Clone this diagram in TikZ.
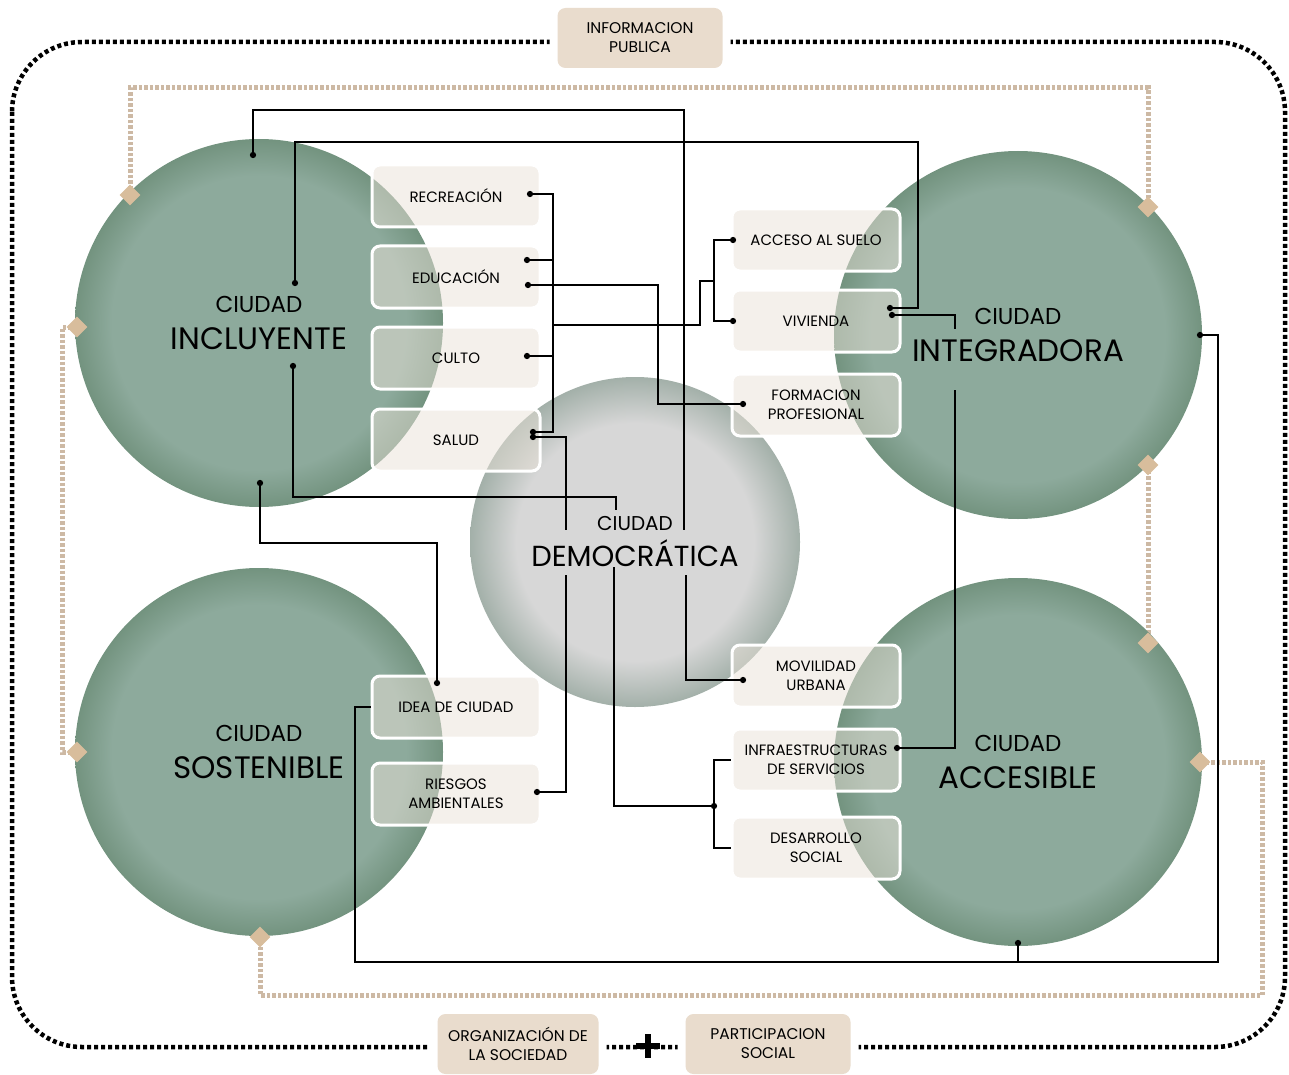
\documentclass[tikz,border=0pt]{standalone}
\usepackage{fontspec}
\setmainfont{Poppins}
\usepackage{tikz}
\usetikzlibrary{shapes.geometric}

\definecolor{verde}{HTML}{8DAA9C}
\definecolor{verdeosc}{HTML}{73937F}
\definecolor{gris}{HTML}{D7D7D7}
\definecolor{grisosc}{HTML}{A3B0A9}
\definecolor{crema}{HTML}{E9E1D7}
\definecolor{arena}{HTML}{E9DCCD}
\definecolor{senda}{HTML}{CDB9A4}
\definecolor{rombo}{HTML}{D8BD9C}

\pgfdeclareradialshading{bolaverde}{\pgfpoint{0bp}{0bp}}{color(0bp)=(verde); color(20bp)=(verde); color(25bp)=(verdeosc); color(50bp)=(verdeosc)}
\pgfdeclareradialshading{bolagris}{\pgfpoint{0bp}{0bp}}{color(0bp)=(gris); color(18bp)=(gris); color(25bp)=(grisosc); color(50bp)=(grisosc)}

\newcommand{\rotulo}[2][23]{{\fontsize{#1}{26}\selectfont CIUDAD}\\#2}

\begin{document}
\begin{tikzpicture}[x=1pt,y=-1pt,
	ciudad/.style={circle, minimum size=368pt, inner sep=0pt, shading=bolaverde,
		align=center, font=\fontsize{31}{37}\selectfont},
	tema/.style={rounded corners=8pt, minimum width=168pt, minimum height=62pt,
		fill=crema, fill opacity=.5, text opacity=1, draw=white, line width=3pt,
		align=center, font=\fontsize{15}{19}\selectfont},
	nota/.style={rounded corners=8pt, minimum width=165pt, minimum height=60pt,
		fill=arena, preaction={draw=white, line width=16pt},
		align=center, font=\fontsize{15.5}{19}\selectfont},
	marco/.style={line width=4.5pt, dash pattern=on 4pt off 3pt, rounded corners=70pt},
	camino/.style={senda, line width=5pt, dash pattern=on 3.5pt off 2pt},
	ficha/.style={diamond, fill=rombo, minimum size=21pt, inner sep=0pt},
	enlace/.style={line width=1.8pt, black}]

	\useasboundingbox (0,0) rectangle (1289,1075);

	% marco exterior
	\draw[marco] (12,42) rectangle (1285,1047);

	% rombos
	\coordinate (r1) at (130,195);
	\coordinate (r2) at (1148,207);
	\coordinate (r3) at (77,327);
	\coordinate (r4) at (77,752);
	\coordinate (r5) at (1148,465);
	\coordinate (r6) at (1148,643);
	\coordinate (r7) at (1200,762);
	\coordinate (r8) at (260,937);

	\draw[camino] (r1) |- (1148,88) -- (r2);
	\draw[camino] (r3) -| (62,752) -- (r4);
	\draw[camino] (r5) -- (r6);
	\draw[camino] (r7) -| (1262,995) -| (r8);

	% ciudades
	\node[ciudad] (inc) at (259,323) {\rotulo{INCLUYENTE}};
	\node[ciudad] (int) at (1018,335) {\rotulo{INTEGRADORA}};
	\node[ciudad] (sos) at (259,752) {\rotulo{SOSTENIBLE}};
	\node[ciudad] (acs) at (1018,762) {\rotulo{ACCESIBLE}};
	\node[ciudad, minimum size=330pt, shading=bolagris, font=\fontsize{29}{36}\selectfont] (dem) at (635,542) {\rotulo[20]{DEMOCRÁTICA}};

	\node[ficha] (f1) at (r1) {};
	\node[ficha] (f2) at (r2) {};
	\node[ficha] (f3) at (r3) {};
	\node[ficha] (f4) at (r4) {};
	\node[ficha] (f5) at (r5) {};
	\node[ficha] (f6) at (r6) {};
	\node[ficha] (f7) at (r7) {};
	\node[ficha] (f8) at (r8) {};

	% temas
	\node[tema] (rec) at (456,196) {RECREACIÓN};
	\node[tema] (edu) at (456,277) {EDUCACIÓN};
	\node[tema] (cul) at (456,358) {CULTO};
	\node[tema] (sal) at (456,440) {SALUD};
	\node[tema] (ide) at (456,707) {IDEA DE CIUDAD};
	\node[tema] (rie) at (456,794) {RIESGOS\\AMBIENTALES};

	\node[tema] (acc) at (816,240) {ACCESO AL SUELO};
	\node[tema] (viv) at (816,321) {VIVIENDA};
	\node[tema] (for) at (816,405) {FORMACION\\PROFESIONAL};
	\node[tema] (mov) at (816,676) {MOVILIDAD\\URBANA};
	\node[tema] (inf) at (816,760) {INFRAESTRUCTURAS\\DE SERVICIOS};
	\node[tema] (des) at (816,848) {DESARROLLO\\SOCIAL};

	\node[nota] (pub) at (640,38) {INFORMACION\\PUBLICA};
	\node[nota, minimum width=161pt] (org) at (518,1044) {ORGANIZACIÓN DE\\LA SOCIEDAD};
	\node[nota] (par) at (768,1044) {PARTICIPACION\\SOCIAL};
	\draw[line width=6.5pt] (636,1046) -- (660,1046) (648,1034) -- (648,1058);

	% puntos de enlace
	\coordinate (inc1) at (253,155);
	\coordinate (inc2) at (295,283);
	\coordinate (inc3) at (293,366);
	\coordinate (inc4) at (260,483);
	\coordinate (recP) at (530,194);
	\coordinate (eduP1) at (527,260);
	\coordinate (eduP2) at (528,285);
	\coordinate (culP) at (527,356);
	\coordinate (salP1) at (533,432);
	\coordinate (salP2) at (533,437);
	\coordinate (ideP) at (437,683);
	\coordinate (rieP) at (537,792);
	\coordinate (accP) at (733,240);
	\coordinate (vivP1) at (733,321);
	\coordinate (vivP2) at (890,308);
	\coordinate (vivP3) at (892,315);
	\coordinate (forP) at (743,404);
	\coordinate (movP) at (743,680);
	\coordinate (infP) at (897,748);
	\coordinate (nudo) at (714,806);
	\coordinate (acsB) at (1018,943);
	\coordinate (intR) at (1200,335);

	\coordinate (demA) at (684,530);
	\coordinate (demB) at (566,530);
	\coordinate (demC) at (616,510);
	\coordinate (demD) at (566,575);
	\coordinate (demE) at (614,567);
	\coordinate (demF) at (686,575);
	\coordinate (intA) at (955,329);
	\coordinate (intB) at (955,390);

	% enlaces
	\draw[enlace] (inc1) |- (684,110) -- (demA);
	\draw[enlace] (inc2) |- (918,142) |- (vivP2);
	\draw[enlace] (vivP3) -| (intA);
	\draw[enlace] (intB) |- (infP);
	\draw[enlace] (recP) -| (553,432) -- (salP1);
	\draw[enlace] (eduP1) -- (553,260);
	\draw[enlace] (culP) -- (553,356);
	\draw[enlace] (553,325) -| (700,281) -- (714,281);
	\draw[enlace] (accP) -| (714,321) -- (vivP1);
	\draw[enlace] (eduP2) -| (658,404) -- (forP);
	\draw[enlace] (salP2) -| (demB);
	\draw[enlace] (inc3) |- (616,497) -- (demC);
	\draw[enlace] (inc4) |- (437,543) -- (ideP);
	\draw[enlace] (demD) |- (rieP);
	\draw[enlace] (demE) |- (nudo);
	\draw[enlace] (inf.west) -| (nudo) |- (des.west);
	\draw[enlace] (demF) |- (movP);
	\draw[enlace, line width=2.6pt] (ide.west) -| (355,962) -| (acsB);
	\draw[enlace] (1018,962) -| (1218,335) -- (intR);

	\foreach \p in {inc1,inc2,inc3,inc4,recP,eduP1,eduP2,culP,salP1,salP2,ideP,rieP,
		accP,vivP1,vivP2,vivP3,forP,movP,infP,nudo,acsB,intR}
		\fill (\p) circle (1.1mm);

\end{tikzpicture}
\end{document}
